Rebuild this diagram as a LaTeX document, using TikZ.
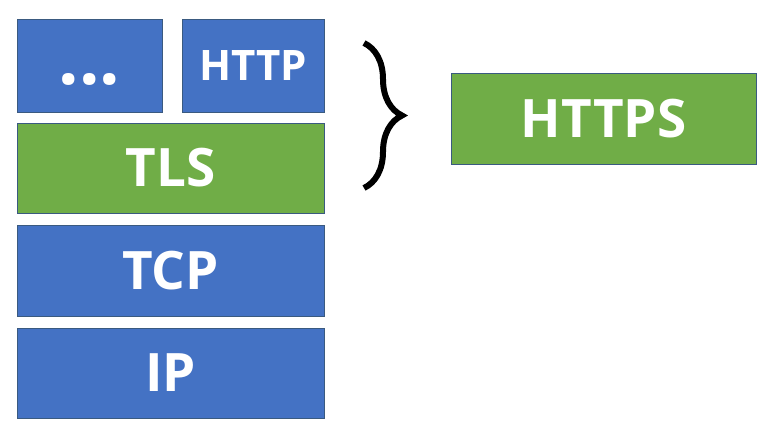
\documentclass[tikz,border=0pt]{standalone}
\usepackage{fontspec}
\setmainfont{Open Sans}
\usepackage{tikz}
\usetikzlibrary{decorations.pathreplacing}
\definecolor{LayerBlue}{HTML}{4472C4}
\definecolor{LayerGreen}{HTML}{70AD47}
\definecolor{LayerEdge}{HTML}{3A5A80}

\begin{document}
\begin{tikzpicture}[x=1pt, y=-1pt,
    layer/.style={draw=LayerEdge, line width=1pt, text=white, inner sep=0pt,
        font=\bfseries\fontsize{53}{60}\selectfont},
    bluelayer/.style={layer, fill=LayerBlue},
    greenlayer/.style={layer, fill=LayerGreen}]

    \useasboundingbox (0,0) rectangle (779,436);

    %Application layers
    \node[bluelayer, minimum width=145pt, minimum height=92pt,
        font=\bfseries\fontsize{72}{72}\selectfont] (dots) at (89.5,66) {\raisebox{-19pt}[0pt][0pt]{...}}; %Other apps
    \node[bluelayer, minimum width=142pt, minimum height=92pt,
        font=\bfseries\fontsize{42}{50}\selectfont] (http) at (253,66) {HTTP}; %HTTP

    %Security layer
    \node[greenlayer, minimum width=307pt, minimum height=90pt] (tls) at (170.5,168) {TLS};

    %Transport and network layers
    \node[bluelayer, minimum width=307pt, minimum height=91pt] (tcp) at (170.5,270.5) {TCP};
    \node[bluelayer, minimum width=307pt, minimum height=90pt] (ip) at (170.5,373) {IP};

    %Brace and result
    \coordinate (bracetop) at (364,43);
    \coordinate (bracebot) at (364,188);
    \draw[line width=6pt, decorate, decoration={brace, amplitude=38pt}] (bracetop) -- (bracebot);
    \node[greenlayer, minimum width=305pt, minimum height=90pt] (https) at (603.5,119) {HTTPS};

\end{tikzpicture}
\end{document}
